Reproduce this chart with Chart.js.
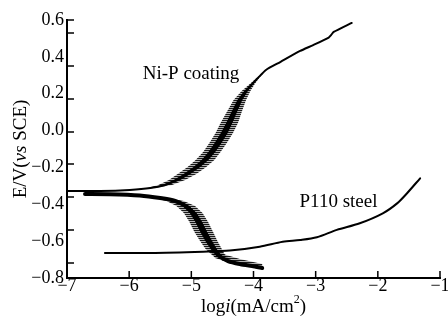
<!DOCTYPE html>
<html>
<head>
<meta charset="utf-8">
<script src="https://cdn.jsdelivr.net/npm/chart.js"></script>
<style>
  html, body { margin: 0; padding: 0; background: #fff; }
</style>
</head>
<body>
<canvas id="graficoTafel" width="448" height="320"></canvas>
<script>
// curvas de polarizacion (log i en mA/cm2, E en V vs SCE)
const niPAnodicLogI = [-7.00, -6.47, -5.99, -5.66, -5.42, -5.23, -5.07, -4.91, -4.78, -4.67, -4.57, -4.47, -4.39, -4.31, -4.22, -4.12, -4.02, -3.93, -3.80, -3.57, -3.25, -3.04, -2.79, -2.75, -2.71, -2.42]
const niPAnodicE    = [-0.328, -0.328, -0.322, -0.312, -0.295, -0.268, -0.236, -0.198, -0.160, -0.116, -0.067, -0.013, 0.041, 0.101, 0.166, 0.215, 0.253, 0.285, 0.329, 0.372, 0.432, 0.464, 0.505, 0.519, 0.535, 0.584]
// ruido en log i (nucleo y "pelos")
const niPAnodicCore = [0, 0, 0, 0.03, 0.05, 0.055, 0.055, 0.055, 0.055, 0.055, 0.055, 0.055, 0.05, 0.045, 0.04, 0.03, 0.02, 0, 0, 0, 0, 0, 0, 0, 0, 0]
const niPAnodicHair = [0, 0, 0, 0.05, 0.11, 0.13, 0.15, 0.15, 0.15, 0.14, 0.14, 0.14, 0.14, 0.12, 0.1, 0.07, 0.04, 0.02, 0, 0, 0, 0, 0, 0, 0, 0]

const niPCathodicLogI = [-6.71, -6.31, -5.83, -5.50, -5.26, -5.09, -4.97, -4.88, -4.80, -4.72, -4.64, -4.55, -4.41, -4.22, -4.02, -3.86]
const niPCathodicE    = [-0.344, -0.345, -0.352, -0.366, -0.382, -0.409, -0.447, -0.496, -0.550, -0.599, -0.643, -0.681, -0.708, -0.724, -0.735, -0.746]
const niPCathodicCore = [0, 0, 0.02, 0.04, 0.055, 0.055, 0.055, 0.055, 0.055, 0.055, 0.05, 0.04, 0.02, 0.01, 0, 0]
const niPCathodicHair = [0, 0, 0.05, 0.1, 0.14, 0.15, 0.15, 0.15, 0.15, 0.14, 0.13, 0.1, 0.07, 0.05, 0.03, 0]
// abanico del final de la rama catodica
const niPTailLogI = [-4.70, -4.22, -3.86, -3.86, -4.22, -4.62]
const niPTailE    = [-0.648, -0.697, -0.724, -0.751, -0.735, -0.691]

const p110LogI = [-6.39, -5.66, -4.81, -4.38, -3.90, -3.53, -3.25, -2.98, -2.66, -2.29, -1.92, -1.69, -1.53, -1.32]
const p110E    = [-0.664, -0.664, -0.657, -0.651, -0.630, -0.603, -0.594, -0.579, -0.539, -0.503, -0.449, -0.395, -0.340, -0.259]

const xTicks = [-7, -6, -5, -4, -3, -2, -1]
const yTickMarks = [0.6, 0.529, 0.350, 0.171, -0.008, -0.181, -0.360, -0.539, -0.718] //marcas del eje y (no coinciden con las etiquetas)

const curveLabels = ["Ni-P coating", "P110 steel"]
const curveLabelX = [-5.005, -2.633]
const curveLabelY = [0.307, -0.390]

const serif = "'Liberation Serif', 'Times New Roman', serif"

const toPoints = (xs, ys) => xs.map((x, i) => ({x, y: ys[i]}))

// poligono cerrado: borde izquierdo de ida y borde derecho de vuelta
const band = (xs, ys, spread) => {
  let left = xs.map((x, i) => ({x: x - spread[i], y: ys[i]}))
  let right = xs.map((x, i) => ({x: x + spread[i], y: ys[i]})).reverse()
  return left.concat(right)
}

const fmt = (v, d) => {
  if (Math.abs(v) < 1e-9) v = 0
  return v.toFixed(d).replace('-', '\u2212')
}

// rayado horizontal fino para imitar el ruido (picos horizontales)
const rayas = (() => {
  let c = document.createElement('canvas')
  c.width = 4; c.height = 2
  let g = c.getContext('2d')
  g.fillStyle = 'rgba(0,0,0,0.9)'; g.fillRect(0, 0, 4, 1)
  g.fillStyle = 'rgba(0,0,0,0.3)'; g.fillRect(0, 1, 4, 1)
  return g.createPattern(c, 'repeat')
})()

const bandSet = (data, color, order) => ({
  data, showLine: true, fill: 'shape', backgroundColor: color,
  borderWidth: 0, borderColor: 'rgba(0,0,0,0)', pointRadius: 0, tension: 0, order
})
const lineSet = (data, width, tension) => ({
  data, showLine: true, fill: false, borderColor: '#000', borderWidth: width,
  pointRadius: 0, tension, borderJoinStyle: 'round', borderCapStyle: 'round', order: 1
})

// texto con partes en cursiva o superindice
const drawRich = (ctx, parts, cx, cy, size) => {
  const fontOf = p => `${p.italic ? 'italic ' : ''}${p.sup ? Math.round(size * 0.62) : size}px ${serif}`
  let widths = parts.map(p => { ctx.font = fontOf(p); return ctx.measureText(p.t).width })
  let total = widths.reduce((a, b) => a + b, 0)
  let xx = cx - total / 2
  parts.forEach((p, i) => {
    ctx.font = fontOf(p)
    ctx.fillText(p.t, xx, p.sup ? cy - size * 0.38 : cy)
    xx += widths[i]
  })
}

const decoracion = {
  id: 'decoracion',
  afterDraw(chart) {
    const {ctx, chartArea: a, scales: {x, y}} = chart
    ctx.save()
    ctx.strokeStyle = '#000'
    ctx.lineWidth = 1.5
    ctx.beginPath()
    yTickMarks.forEach(v => {
      let py = y.getPixelForValue(v)
      ctx.moveTo(a.left, py); ctx.lineTo(a.left + 7, py)
    })
    xTicks.forEach(v => {
      let px = x.getPixelForValue(v)
      ctx.moveTo(px, a.bottom); ctx.lineTo(px, a.bottom - 7)
    })
    ctx.stroke()

    ctx.fillStyle = '#000'
    ctx.textBaseline = 'middle'
    ctx.textAlign = 'left'
    drawRich(ctx, [{t: 'log'}, {t: 'i', italic: true}, {t: '(mA/cm'}, {t: '2', sup: true}, {t: ')'}],
      (a.left + a.right) / 2, 307, 19)

    ctx.save()
    ctx.translate(21, (a.top + a.bottom) / 2)
    ctx.rotate(-Math.PI / 2)
    drawRich(ctx, [{t: 'E/V('}, {t: 'vs', italic: true}, {t: ' SCE)'}], 0, 0, 19)
    ctx.restore()

    ctx.textAlign = 'center'
    ctx.font = `19px ${serif}`
    curveLabels.forEach((t, i) => {
      ctx.fillText(t, x.getPixelForValue(curveLabelX[i]), y.getPixelForValue(curveLabelY[i]))
    })
    ctx.restore()
  }
}

new Chart(document.getElementById("graficoTafel"), {
  type: 'scatter',
  data: {
    datasets: [
      bandSet(band(niPAnodicLogI, niPAnodicE, niPAnodicHair), rayas, 3),
      bandSet(band(niPCathodicLogI, niPCathodicE, niPCathodicHair), rayas, 3),
      bandSet(toPoints(niPTailLogI, niPTailE), rayas, 3),
      bandSet(band(niPAnodicLogI, niPAnodicE, niPAnodicCore), '#000', 2),
      bandSet(band(niPCathodicLogI, niPCathodicE, niPCathodicCore), '#000', 2),
      lineSet(toPoints(niPAnodicLogI, niPAnodicE), 2, 0.2),
      lineSet(toPoints(niPCathodicLogI, niPCathodicE), 4, 0.2),
      lineSet(toPoints(p110LogI, p110E), 2, 0.3)
    ]
  },
  options: {
    responsive: false,
    animation: false,
    layout: { padding: { top: 20, right: 8, left: 0, bottom: 0 } },
    plugins: { legend: { display: false }, tooltip: { enabled: false } },
    scales: {
      x: {
        type: 'linear', min: -7, max: -1,
        ticks: { stepSize: 1, padding: -1, color: '#000', font: { family: serif, size: 18, lineHeight: 1 }, callback: v => fmt(v, 0) },
        grid: { display: false, drawTicks: false },
        border: { display: true, color: '#000', width: 2 },
        afterFit: s => { s.height = 42; s.paddingLeft = 0; s.paddingRight = 0 }
      },
      y: {
        type: 'linear', min: -0.8, max: 0.6,
        ticks: { stepSize: 0.2, padding: 3, color: '#000', font: { family: serif, size: 18, lineHeight: 1 }, callback: v => fmt(v, 1) },
        grid: { display: false, drawTicks: false },
        border: { display: true, color: '#000', width: 2 },
        afterFit: s => { s.width = 67 }
      }
    }
  },
  plugins: [decoracion]
})
</script>
</body>
</html>
